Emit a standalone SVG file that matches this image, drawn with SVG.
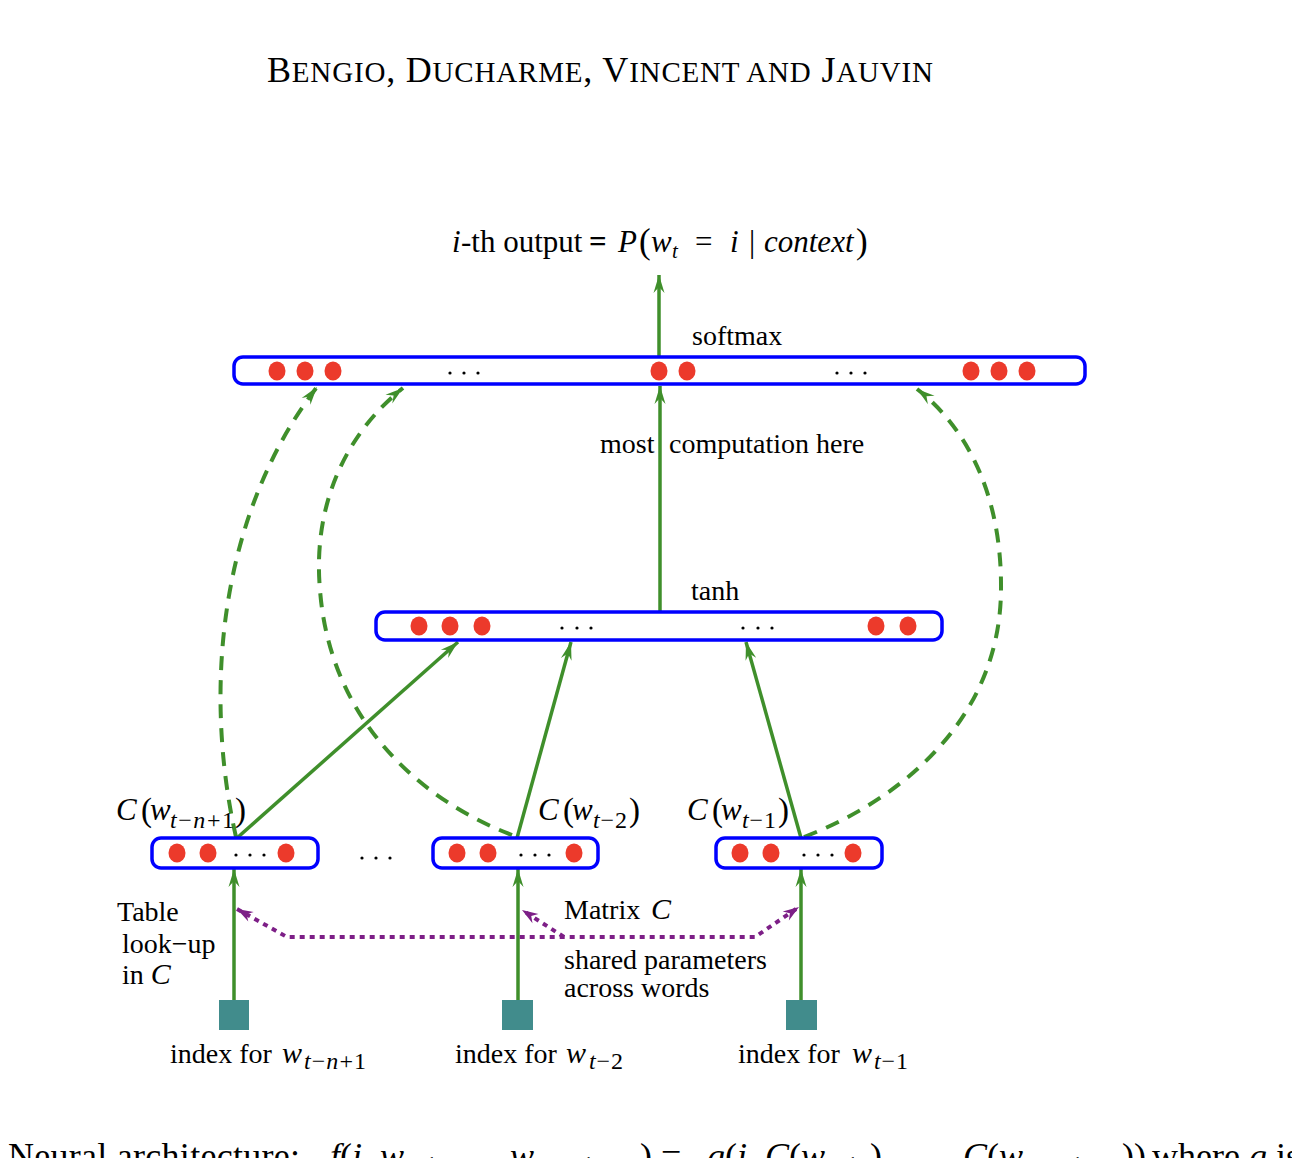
<svg xmlns="http://www.w3.org/2000/svg" width="1292" height="1158" viewBox="0 0 1292 1158">
<defs>
<style>
.t{font-family:"Liberation Serif","Times New Roman",serif;fill:#000}
.it{font-style:italic}
.box{fill:#fff;stroke:#0000ff;stroke-width:3.5}
.dot{fill:#ec3a2b}
.bd{fill:#000}
.sq{fill:#418c8c}
.g{fill:none;stroke:#3f8f2b;stroke-width:3.5}
.gd{fill:none;stroke:#3f8f2b;stroke-width:4;stroke-dasharray:14 10}
.p{fill:none;stroke:#7d1f87;stroke-width:4;stroke-dasharray:5 5}
</style>
<marker id="ag" markerUnits="userSpaceOnUse" viewBox="-20 -8 22 16" refX="0" refY="0" markerWidth="22" markerHeight="16" orient="auto-start-reverse">
<path d="M0,0 L-18,-5.5 L-12,0 L-18,5.5 Z" fill="#3f8f2b"/>
</marker>
<marker id="ap" markerUnits="userSpaceOnUse" viewBox="-20 -8 22 16" refX="0" refY="0" markerWidth="22" markerHeight="16" orient="auto-start-reverse">
<path d="M0,0 L-16,-5.5 L-11,0 L-16,5.5 Z" fill="#7d1f87"/>
</marker>
</defs>
<rect width="1292" height="1158" fill="#fff"/>

<text class="t" x="267" y="82" font-size="36" textLength="666" lengthAdjust="spacing">B<tspan font-size="29">ENGIO</tspan>, D<tspan font-size="29">UCHARME</tspan>, V<tspan font-size="29">INCENT AND</tspan> J<tspan font-size="29">AUVIN</tspan></text>

<g id="output-label" class="t" font-size="31">
<text x="452" y="252" class="t it">i</text>
<text x="461" y="252" class="t">-th output</text>
<text x="589" y="252" class="t" font-weight="bold">=</text>
<text x="618" y="252" class="t it">P</text>
<text x="639" y="253" class="t" font-size="35">(</text>
<text x="651" y="252" class="t it">w</text>
<text x="672" y="258" class="t it" font-size="21">t</text>
<text x="695" y="252" class="t">=</text>
<text x="730" y="252" class="t it">i</text>
<text x="749" y="252" class="t">|</text>
<text x="764" y="252" class="t it">context</text>
<text x="856" y="253" class="t" font-size="35">)</text>
</g>

<g id="connectors">
<line class="g" x1="659" y1="357" x2="659" y2="275" marker-end="url(#ag)"/>
<line class="g" x1="660" y1="612" x2="660" y2="386" marker-end="url(#ag)"/>
<line class="g" x1="237" y1="838" x2="458" y2="642" marker-end="url(#ag)"/>
<line class="g" x1="517" y1="838" x2="571" y2="642" marker-end="url(#ag)"/>
<line class="g" x1="801" y1="838" x2="746" y2="642" marker-end="url(#ag)"/>
<line class="g" x1="234" y1="1000" x2="234" y2="869" marker-end="url(#ag)"/>
<line class="g" x1="518" y1="1000" x2="518" y2="869" marker-end="url(#ag)"/>
<line class="g" x1="801" y1="1000" x2="801" y2="869" marker-end="url(#ag)"/>
<path class="gd" d="M 236 837 C 205 700, 215 520, 317 387" marker-end="url(#ag)"/>
<path class="gd" d="M 512 835 C 420 800, 330 720, 320 590 C 312 500, 350 430, 403 388" marker-end="url(#ag)"/>
<path class="gd" d="M 804 837 C 900 800, 1000 720, 1001 590 C 1002 500, 970 430, 917 389" marker-end="url(#ag)"/>
<path class="p" d="M 237 909 L 287 937 L 755 937 L 799 907" marker-start="url(#ap)" marker-end="url(#ap)"/>
<path class="p" d="M 564 937 L 522 910" marker-end="url(#ap)"/>
</g>

<g id="softmax-layer">
<rect class="box" x="234" y="357" width="851" height="27" rx="9"/>
<ellipse class="dot" cx="277" cy="371" rx="8.5" ry="9.5"/>
<ellipse class="dot" cx="305" cy="371" rx="8.5" ry="9.5"/>
<ellipse class="dot" cx="333" cy="371" rx="8.5" ry="9.5"/>
<circle class="bd" cx="450" cy="373" r="1.6"/><circle class="bd" cx="464" cy="373" r="1.6"/><circle class="bd" cx="478" cy="373" r="1.6"/>
<ellipse class="dot" cx="659" cy="371" rx="8.5" ry="9.5"/>
<ellipse class="dot" cx="687" cy="371" rx="8.5" ry="9.5"/>
<circle class="bd" cx="837" cy="373" r="1.6"/><circle class="bd" cx="851" cy="373" r="1.6"/><circle class="bd" cx="865" cy="373" r="1.6"/>
<ellipse class="dot" cx="971" cy="371" rx="8.5" ry="9.5"/>
<ellipse class="dot" cx="999" cy="371" rx="8.5" ry="9.5"/>
<ellipse class="dot" cx="1027" cy="371" rx="8.5" ry="9.5"/>
<text class="t" x="692" y="345" font-size="28">softmax</text>
</g>

<text class="t" x="600" y="453" font-size="28">most</text>
<text class="t" x="669" y="453" font-size="28">computation here</text>

<g id="tanh-layer">
<rect class="box" x="376" y="612" width="566" height="28" rx="9"/>
<ellipse class="dot" cx="419" cy="626" rx="8.5" ry="9.5"/>
<ellipse class="dot" cx="450" cy="626" rx="8.5" ry="9.5"/>
<ellipse class="dot" cx="482" cy="626" rx="8.5" ry="9.5"/>
<circle class="bd" cx="562" cy="628" r="1.6"/><circle class="bd" cx="577" cy="628" r="1.6"/><circle class="bd" cx="591" cy="628" r="1.6"/>
<circle class="bd" cx="743" cy="628" r="1.6"/><circle class="bd" cx="758" cy="628" r="1.6"/><circle class="bd" cx="772" cy="628" r="1.6"/>
<ellipse class="dot" cx="876" cy="626" rx="8.5" ry="9.5"/>
<ellipse class="dot" cx="908" cy="626" rx="8.5" ry="9.5"/>
<text class="t" x="691" y="600" font-size="28">tanh</text>
</g>

<g id="feature-w-t-n1">
<rect class="box" x="152" y="838" width="166" height="30" rx="9"/>
<ellipse class="dot" cx="177" cy="853" rx="8.5" ry="9.5"/>
<ellipse class="dot" cx="208" cy="853" rx="8.5" ry="9.5"/>
<circle class="bd" cx="236" cy="855" r="1.6"/><circle class="bd" cx="250" cy="855" r="1.6"/><circle class="bd" cx="264" cy="855" r="1.6"/>
<ellipse class="dot" cx="286" cy="853" rx="8.5" ry="9.5"/>
<text class="t it" x="116" y="820" font-size="31">C</text>
<text class="t" x="141" y="821" font-size="33">(</text>
<text class="t it" x="150" y="820" font-size="31">w</text>
<text class="t it" x="170" y="828" font-size="24" textLength="64" lengthAdjust="spacing">t<tspan font-style="normal">−</tspan>n<tspan font-style="normal">+1</tspan></text>
<text class="t" x="235" y="821" font-size="33">)</text>
</g>

<g id="feature-w-t-2">
<rect class="box" x="433" y="838" width="165" height="30" rx="9"/>
<ellipse class="dot" cx="457" cy="853" rx="8.5" ry="9.5"/>
<ellipse class="dot" cx="488" cy="853" rx="8.5" ry="9.5"/>
<circle class="bd" cx="521" cy="855" r="1.6"/><circle class="bd" cx="535" cy="855" r="1.6"/><circle class="bd" cx="549" cy="855" r="1.6"/>
<ellipse class="dot" cx="574" cy="853" rx="8.5" ry="9.5"/>
<text class="t it" x="538" y="820" font-size="31">C</text>
<text class="t" x="563" y="821" font-size="33">(</text>
<text class="t it" x="572" y="820" font-size="31">w</text>
<text class="t it" x="593" y="828" font-size="24" textLength="34" lengthAdjust="spacing">t<tspan font-style="normal">−2</tspan></text>
<text class="t" x="629" y="821" font-size="33">)</text>
</g>

<g id="feature-w-t-1">
<rect class="box" x="716" y="838" width="166" height="30" rx="9"/>
<ellipse class="dot" cx="740" cy="853" rx="8.5" ry="9.5"/>
<ellipse class="dot" cx="771" cy="853" rx="8.5" ry="9.5"/>
<circle class="bd" cx="804" cy="855" r="1.6"/><circle class="bd" cx="818" cy="855" r="1.6"/><circle class="bd" cx="832" cy="855" r="1.6"/>
<ellipse class="dot" cx="853" cy="853" rx="8.5" ry="9.5"/>
<text class="t it" x="687" y="820" font-size="31">C</text>
<text class="t" x="712" y="821" font-size="33">(</text>
<text class="t it" x="721" y="820" font-size="31">w</text>
<text class="t it" x="742" y="828" font-size="24" textLength="34" lengthAdjust="spacing">t<tspan font-style="normal">−1</tspan></text>
<text class="t" x="778" y="821" font-size="33">)</text>
</g>

<g id="between-dots">
<circle class="bd" cx="362" cy="858" r="1.6"/><circle class="bd" cx="376" cy="858" r="1.6"/><circle class="bd" cx="390" cy="858" r="1.6"/>
</g>

<g id="index-w-t-n1">
<rect class="sq" x="219" y="1000" width="30" height="30"/>
<text class="t" x="170" y="1063" font-size="28">index for</text>
<text class="t it" x="282" y="1063" font-size="30">w</text>
<text class="t it" x="304" y="1069" font-size="24" textLength="62" lengthAdjust="spacing">t<tspan font-style="normal">−</tspan>n<tspan font-style="normal">+1</tspan></text>
</g>
<g id="index-w-t-2">
<rect class="sq" x="502" y="1000" width="31" height="30"/>
<text class="t" x="455" y="1063" font-size="28">index for</text>
<text class="t it" x="566" y="1063" font-size="30">w</text>
<text class="t it" x="589" y="1069" font-size="24" textLength="34" lengthAdjust="spacing">t<tspan font-style="normal">−2</tspan></text>
</g>
<g id="index-w-t-1">
<rect class="sq" x="786" y="1000" width="31" height="30"/>
<text class="t" x="738" y="1063" font-size="28">index for</text>
<text class="t it" x="852" y="1063" font-size="30">w</text>
<text class="t it" x="874" y="1069" font-size="24" textLength="34" lengthAdjust="spacing">t<tspan font-style="normal">−1</tspan></text>
</g>

<g id="table-label">
<text class="t" x="117" y="921" font-size="28">Table</text>
<text class="t" x="122" y="953" font-size="28">look−up</text>
<text class="t" x="122" y="984" font-size="28">in <tspan class="it" font-size="30">C</tspan></text>
</g>
<g id="matrix-label">
<text class="t" x="564" y="919" font-size="28">Matrix <tspan class="it" x="651" font-size="30">C</tspan></text>
<text class="t" x="564" y="969" font-size="28">shared parameters</text>
<text class="t" x="564" y="997" font-size="28">across words</text>
</g>

<text class="t" y="1168" font-size="36"><tspan x="8" textLength="292" lengthAdjust="spacing">Neural architecture:</tspan><tspan class="it" x="330">f</tspan>(<tspan class="it">i</tspan>, <tspan class="it">w</tspan><tspan font-size="25" dy="6"><tspan class="it">t</tspan>−1</tspan><tspan dy="-6">, . . . ,</tspan><tspan class="it" x="510">w</tspan><tspan font-size="25" dy="6"><tspan class="it">t</tspan>−<tspan class="it">n</tspan>+1</tspan><tspan x="640" dy="-6">)</tspan> = <tspan class="it" x="707">g</tspan>(<tspan class="it">i</tspan>, <tspan class="it">C</tspan>(<tspan class="it">w</tspan><tspan font-size="25" dy="6"><tspan class="it">t</tspan>−1</tspan><tspan x="870" dy="-6">)</tspan>, . . . , <tspan class="it" x="963">C</tspan>(<tspan class="it">w</tspan><tspan font-size="25" dy="6"><tspan class="it">t</tspan>−<tspan class="it">n</tspan>+1</tspan><tspan x="1122" dy="-6">))</tspan> <tspan x="1152">where <tspan class="it">g</tspan> is the neural network</tspan></text>
</svg>
